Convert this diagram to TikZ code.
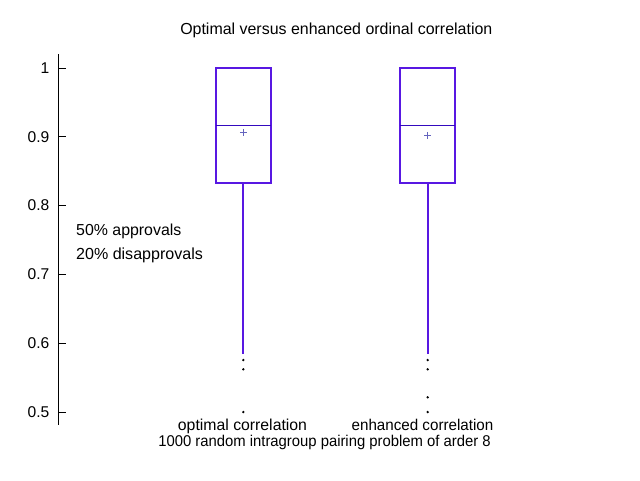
\documentclass[tikz,border=0pt]{standalone}
\usepackage{fontspec}
\setmainfont{Liberation Sans}
\definecolor{boxc}{RGB}{88,24,226}
\definecolor{medc}{RGB}{52,10,190}
\definecolor{meanc}{RGB}{100,100,190}
\begin{document}
\begin{tikzpicture}[x=1pt,y=-1pt,
  txt/.style={inner sep=0pt,font=\fontsize{15.6}{18}\selectfont},
  fsz/.style={font=\fontsize{#1}{18}\selectfont},
  ticklab/.style={txt,anchor=east},
  boxline/.style={draw=boxc,line width=2pt},
  whisk/.style={draw=boxc,line width=2pt},
  medline/.style={draw=medc,line width=1pt},
  meanmark/.style={draw=meanc,line width=0.7pt},
  outl/.style={fill=black},
  axisline/.style={draw=black,line width=1pt}]
\useasboundingbox (0,0) rectangle (640,480);
% title
\node[txt,fsz=15.95,anchor=base] (title) at (336.3,34) {Optimal versus enhanced ordinal correlation};
% axis
\coordinate (atop) at (58,54);
\coordinate (abot) at (58,425);
\draw[axisline] (atop) -- (abot);
\foreach \v/\y/\n in {1/68/t1,0.9/136.8/t2,0.8/205.6/t3,0.7/274.4/t4,0.6/343.2/t5,0.5/412/t6}{
  \coordinate (\n a) at (58,\y);
  \coordinate (\n b) at (66,\y);
  \draw[axisline] (\n a) -- (\n b);
  \node[ticklab] (\n l) at (49.5,\y) {\v};
}
% annotations
\node[txt,fsz=15.9,anchor=base west] (appr) at (76,235) {50\% approvals};
\node[txt,fsz=16.05,anchor=base west] (disappr) at (76,259) {20\% disapprovals};
% box 1
\draw[boxline] (215.5,68) rectangle (271,182.5);
\draw[medline] (215.5,125.3) -- (271,125.3);
\coordinate (w1t) at (243.3,182.5);
\coordinate (w1b) at (243.3,354);
\draw[whisk] (w1t) -- (w1b);
\draw[meanmark] (239.8,132.3) -- (246.8,132.3) (243.3,128.8) -- (243.3,135.8);
\foreach \y in {360,369.3,412}{\fill[outl] (243.3,\y) circle (1.3);}
% box 2
\draw[boxline] (400,68) rectangle (455.3,182.5);
\draw[medline] (400,125.3) -- (455.3,125.3);
\coordinate (w2t) at (427.7,182.5);
\coordinate (w2b) at (427.7,354);
\draw[whisk] (w2t) -- (w2b);
\draw[meanmark] (424.2,135.3) -- (431.2,135.3) (427.7,131.8) -- (427.7,138.8);
\foreach \y in {360,369.3,397.3,412}{\fill[outl] (427.7,\y) circle (1.3);}
% category labels
\node[txt,fsz=15.8,anchor=base] (lab1) at (242.5,430) {optimal correlation};
\node[txt,anchor=base] (lab2) at (422.5,430) {\scalebox{0.972}[1]{enhanced correlation}};
\node[txt,anchor=base] (xlab) at (324.5,446.3) {\scalebox{0.951}[1]{1000 random intragroup pairing problem of arder 8}};
\end{tikzpicture}
\end{document}
